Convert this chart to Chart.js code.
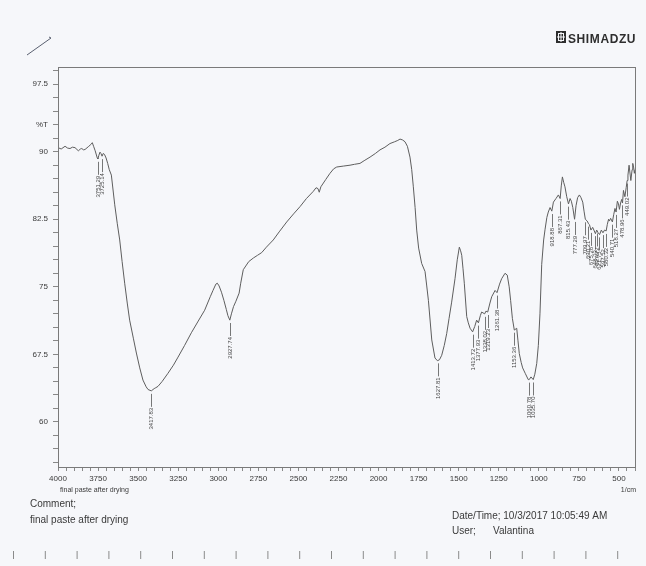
<!DOCTYPE html>
<html lang="en">
  <head>
    <meta charset="UTF-8" />
    <title>FTIR spectrum - final paste after drying</title>
    <script src="https://cdn.jsdelivr.net/npm/chart.js"></script>
    <style>
      body {
        margin: 0;
        background: #f6f7fa;
      }
      canvas {
        display: block;
      }
    </style>
  </head>
  <body>
    <canvas id="irChart" width="646" height="566"></canvas>

    <script>
      // wavenumber (1/cm) and transmittance (%T)
      const wavenumbers = [
        4000, 3980, 3956, 3940, 3925, 3910, 3894, 3873, 3860, 3852, 3840, 3831, 3811, 3795, 3786, 3778,
        3768, 3755, 3751, 3745, 3738, 3732, 3725, 3718, 3710, 3700, 3690, 3680, 3667, 3646, 3630, 3615,
        3600, 3584, 3568, 3553, 3530, 3511, 3490, 3470, 3450, 3438, 3418, 3400, 3390, 3376, 3350, 3314,
        3280, 3251, 3210, 3168, 3125, 3085, 3050, 3033, 3015, 3006, 2995, 2980, 2965, 2950, 2940, 2928,
        2918, 2905, 2890, 2870, 2860, 2844, 2810, 2781, 2755, 2729, 2700, 2657, 2620, 2573, 2530, 2490,
        2450, 2407, 2390, 2378, 2370, 2360, 2330, 2303, 2280, 2261, 2220, 2178, 2150, 2116, 2090, 2053,
        2020, 1991, 1960, 1929, 1900, 1880, 1866, 1850, 1835, 1820, 1804, 1793, 1783, 1772, 1762, 1750,
        1731, 1710, 1700, 1689, 1668, 1648, 1633, 1620, 1606, 1590, 1575, 1560, 1544, 1523, 1509, 1496,
        1488, 1481, 1473, 1465, 1450, 1440, 1429, 1413, 1400, 1388, 1377, 1365, 1357, 1338, 1330, 1319,
        1305, 1294, 1273, 1261, 1245, 1232, 1211, 1197, 1185, 1176, 1165, 1153, 1138, 1130, 1122, 1110,
        1101, 1085, 1066, 1060, 1049, 1035, 1025, 1013, 1003, 993, 982, 970, 961, 950, 941, 930,
        919, 909, 893, 878, 867, 860, 853, 845, 837, 826, 815, 805, 797, 788, 777, 768,
        758, 747, 737, 726, 718, 710, 698, 690, 684, 675, 664, 654, 647, 639, 630, 621,
        610, 600, 590, 580, 573, 565, 560, 552, 541, 533, 525, 518, 510, 503, 497, 490,
        483, 478, 472, 463, 455, 449, 444, 437, 426, 418, 414, 408, 404, 400
      ];
      const transmittance = [
        90.45, 90.3, 90.6, 90.4, 90.35, 90.5, 90.45, 90.1, 90.3, 90.35, 90.2, 90.25, 90.55, 90.8, 91.0, 90.6,
        90.1, 89.3, 89.2, 89.6, 89.95, 89.8, 89.5, 89.8, 89.7, 89.3, 88.7, 88.0, 87.4, 84.1, 82.0, 80.2,
        77.8, 75.4, 73.2, 71.3, 69.3, 67.65, 66.0, 64.65, 63.9, 63.6, 63.45, 63.7, 63.8, 63.95, 64.5, 65.4,
        66.3, 67.2, 68.5, 69.9, 71.2, 72.4, 73.9, 74.6, 75.3, 75.4, 75.1, 74.4, 73.5, 72.5, 71.8, 71.3,
        72.0, 72.8, 73.4, 74.3, 75.4, 76.9, 77.8, 78.2, 78.5, 78.8, 79.4, 80.2, 81.1, 82.2, 83.1, 83.9,
        84.8, 85.6, 86.0, 85.9, 85.5, 86.1, 86.9, 87.6, 88.1, 88.3, 88.4, 88.5, 88.6, 88.7, 89.0, 89.4,
        89.8, 90.2, 90.5, 90.9, 91.1, 91.25, 91.4, 91.3, 91.1, 90.6, 89.4, 88.0, 86.1, 83.8, 81.3, 79.3,
        77.6, 76.7, 75.2, 73.5, 69.1, 67.1, 66.8, 66.9, 67.4, 68.5, 69.8, 71.5, 73.3, 75.9, 78.0, 79.4,
        79.0, 78.5, 77.0, 75.4, 71.7, 71.0, 70.4, 70.0, 70.6, 71.3, 71.0, 71.8, 72.2, 72.0, 72.3, 72.2,
        73.2, 73.9, 74.6, 74.35, 75.3, 75.9, 76.5, 76.3, 75.0, 73.5, 71.5, 70.2, 70.4, 69.0, 67.6, 66.6,
        66.0, 65.4, 64.7, 64.7, 65.0, 64.7, 65.3, 66.5, 68.5, 72.0, 77.5, 80.2, 81.4, 82.7, 83.3, 83.8,
        83.4, 84.4, 84.8, 85.2, 84.8, 86.2, 87.2, 86.6, 86.1, 85.0, 84.2, 84.8, 84.5, 83.8, 82.5, 84.0,
        84.9, 85.2, 84.9, 84.4, 83.4, 82.5, 82.3, 82.0, 81.9, 81.3, 81.6, 81.2, 80.9, 81.3, 81.0, 80.8,
        81.3, 81.0, 81.3, 81.2, 81.9, 82.5, 82.3, 82.6, 82.2, 83.0, 83.7, 83.3, 84.5, 84.2, 83.6, 84.3,
        84.7, 84.3, 85.7, 85.0, 86.0, 86.8, 87.4, 88.5, 86.8, 88.0, 88.7, 88.2, 87.6, 88.0
      ];

      // peak picks printed by the instrument
      const peakLabels = [
        "3751.29", "3725.14", "3417.83", "2927.74", "1627.81", "1413.72", "1377.93", "1338.02",
        "1319.23", "1261.38", "1153.36", "1060.78", "1035.70", "918.88", "867.31", "815.43",
        "777.29", "709.97", "690.21", "675.28", "648.33", "637.72", "621.75", "597.52",
        "580.32", "540.71", "518.27", "478.96", "449.02"
      ];

      // y tick labels shown on the %T axis
      const yLabelValues = [97.5, 90, 82.5, 75, 67.5, 60];

      const bgColor = "#f6f7fa";
      const inkColor = "#3a3a3a";
      const fontFamily = '"Liberation Sans", Arial, sans-serif';

      function valueAt(w) {
        for (let i = 0; i < wavenumbers.length - 1; i++) {
          const a = wavenumbers[i], b = wavenumbers[i + 1];
          if (w <= a && w >= b) {
            const t = (a - w) / (a - b);
            return transmittance[i] + t * (transmittance[i + 1] - transmittance[i]);
          }
        }
        return transmittance[transmittance.length - 1];
      }

      const pagePlugin = {
        id: "page",
        beforeDraw(chart) {
          const ctx = chart.ctx;
          ctx.save();
          ctx.fillStyle = bgColor;
          ctx.fillRect(0, 0, chart.width, chart.height);
          ctx.restore();
        },
        afterDraw(chart) {
          const ctx = chart.ctx;
          const area = chart.chartArea;
          ctx.save();

          // frame round the plot
          ctx.strokeStyle = "#7a7a7a";
          ctx.lineWidth = 1;
          ctx.strokeRect(area.left + 0.5, area.top + 0.5, area.right - area.left, area.bottom - area.top);

          ctx.fillStyle = inkColor;
          ctx.textBaseline = "alphabetic";

          ctx.font = "7px " + fontFamily;
          ctx.textAlign = "left";
          ctx.fillText("final paste after drying", 60, 492);
          ctx.textAlign = "right";
          ctx.fillText("1/cm", 636, 492);

          ctx.textAlign = "left";
          ctx.font = "10px " + fontFamily;
          ctx.fillText("Comment;", 30, 507);
          ctx.fillText("final paste after drying", 30, 523);
          ctx.fillText("Date/Time; 10/3/2017 10:05:49 AM", 452, 519);
          ctx.fillText("User;", 452, 534);
          ctx.fillText("Valantina", 493, 534);

          // logo
          ctx.fillStyle = "#2e2e2e";
          ctx.fillRect(556, 31, 10, 12);
          ctx.strokeStyle = bgColor;
          ctx.lineWidth = 1;
          ctx.strokeRect(558.5, 33.5, 5, 7);
          ctx.beginPath();
          ctx.moveTo(561, 32); ctx.lineTo(561, 42);
          ctx.moveTo(557, 37); ctx.lineTo(565, 37);
          ctx.stroke();
          ctx.fillStyle = "#2e2e2e";
          ctx.font = "bold 12px " + fontFamily;
          ctx.letterSpacing = "0.6px";
          ctx.fillText("SHIMADZU", 568, 43);
          ctx.letterSpacing = "0px";

          // pen mark
          ctx.strokeStyle = "#5a6070";
          ctx.lineWidth = 1;
          ctx.beginPath();
          ctx.moveTo(27, 55);
          ctx.lineTo(51, 38);
          ctx.lineTo(49, 37);
          ctx.stroke();

          // ruler marks along the bottom edge
          ctx.strokeStyle = "#8a8a8a";
          for (let i = 0; i < 20; i++) {
            const x = 13.5 + i * 31.8;
            ctx.beginPath();
            ctx.moveTo(x, 551);
            ctx.lineTo(x, 559);
            ctx.stroke();
          }
          ctx.restore();
        },
      };

      const peakPlugin = {
        id: "peaks",
        afterDatasetsDraw(chart) {
          const ctx = chart.ctx;
          const xs = chart.scales.x;
          const ys = chart.scales.y;
          ctx.save();
          ctx.strokeStyle = "#555";
          ctx.fillStyle = "#444";
          ctx.lineWidth = 0.8;
          ctx.font = "6px " + fontFamily;
          peakLabels.forEach((p) => {
            const w = parseFloat(p);
            const px = Math.round(xs.getPixelForValue(w)) + 0.5;
            const py = ys.getPixelForValue(valueAt(w));
            ctx.beginPath();
            ctx.moveTo(px, py + 3);
            ctx.lineTo(px, py + 16);
            ctx.stroke();
            ctx.save();
            ctx.translate(px, py + 17);
            ctx.rotate(-Math.PI / 2);
            ctx.textAlign = "right";
            ctx.textBaseline = "middle";
            ctx.fillText(p, 0, 0);
            ctx.restore();
          });
          ctx.restore();
        },
      };

      const ctx = document.getElementById("irChart").getContext("2d");
      const irChart = new Chart(ctx, {
        type: "line",
        data: {
          datasets: [
            {
              label: "%T",
              data: wavenumbers.map((w, i) => ({ x: w, y: transmittance[i] })),
              borderColor: "#5e5e5e",
              borderWidth: 1,
              pointRadius: 0,
              tension: 0,
              fill: false,
            },
          ],
        },
        options: {
          responsive: false,
          animation: false,
          layout: { padding: { left: 0, right: 11, top: 67, bottom: 0 } },
          plugins: { legend: { display: false }, tooltip: { enabled: false } },
          scales: {
            x: {
              type: "linear",
              reverse: true,
              min: 400,
              max: 4000,
              afterBuildTicks(scale) {
                const t = [];
                for (let v = 4000; v >= 400; v -= 50) t.push({ value: v });
                scale.ticks = t;
              },
              afterFit(scale) {
                scale.height = 99;
              },
              ticks: {
                autoSkip: false,
                maxRotation: 0,
                padding: 3,
                color: inkColor,
                font: { size: 8, family: fontFamily },
                callback: (v) => (v % 250 === 0 && v >= 500 ? String(v) : ""),
              },
              grid: {
                drawOnChartArea: false,
                tickLength: 4,
                color: "#888",
              },
              border: { color: "#7a7a7a" },
            },
            y: {
              min: 55,
              max: 99.4,
              afterBuildTicks(scale) {
                const t = [];
                for (let k = 0; k <= 29; k++) t.push({ value: Math.round((55.5 + k * 1.5) * 10) / 10 });
                scale.ticks = t;
              },
              afterFit(scale) {
                scale.width = 58;
              },
              ticks: {
                autoSkip: false,
                padding: 5,
                color: inkColor,
                font: { size: 8, family: fontFamily },
                callback: (v) => {
                  if (v === 93) return "%T";
                  return yLabelValues.includes(v) ? String(v) : "";
                },
              },
              grid: {
                drawOnChartArea: false,
                tickLength: 5,
                color: "#888",
              },
              border: { color: "#7a7a7a" },
            },
          },
        },
        plugins: [pagePlugin, peakPlugin],
      });
    </script>
  </body>
</html>
